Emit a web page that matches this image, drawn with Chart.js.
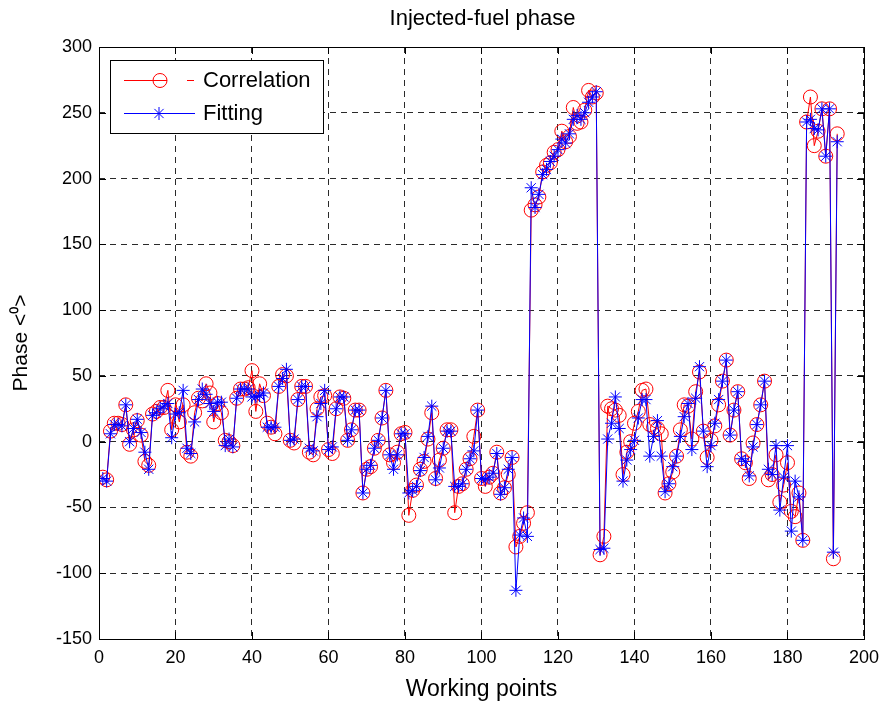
<!DOCTYPE html>
<html>
<head>
<meta charset="utf-8">
<title>Injected-fuel phase</title>
<script src="https://cdn.jsdelivr.net/npm/chart.js@4.4.1/dist/chart.umd.min.js"></script>
<style>
  html, body { margin: 0; padding: 0; background: #ffffff; }
  canvas { display: block; }
</style>
</head>
<body>
<canvas id="phaseChart" width="887" height="705"></canvas>
<script>
// Phase per working point, in degrees
const correlation = [
  -27, -29, 8, 14, 14, 13, 28, -2, 9, 16,
  5, -15, -18, 21, 23, 26, 26, 39, 9, 28,
  15, 28, -8, -11, 22, 33, 31, 44, 37, 15,
  29, 22, 1, 0, -3, 33, 40, 40, 41, 54,
  23, 44, 35, 14, 11, 6, 42, 51, 50, 1,
  -1, 32, 42, 42, -8, -10, 25, 34, 35, -6,
  -9, 25, 34, 33, 1, 9, 24, 24, -39, -21,
  -19, -5, 1, 18, 39, -10, -16, -8, 6, 7,
  -56, -37, -33, -21, -15, 2, 22, -28, -14, -5,
  9, 9, -54, -34, -32, -21, -13, 4, 24, -28,
  -34, -27, -24, -8, -39, -35, -25, -12, -80, -72,
  -62, -54, 176, 180, 186, 205, 210, 212, 220, 222,
  236, 228, 232, 254, 242, 243, 252, 267, 262, 265,
  -86, -72, 27, 25, 24, 20, -25, -8, 0, 14,
  23, 39, 40, 13, 11, 10, 6, -39, -32, -23,
  -11, 9, 28, 27, 2, 38, 53, 8, -12, 1,
  12, 28, 46, 62, 5, 24, 38, -13, -16, -28,
  -1, 13, 28, 46, -29, -25, -10, -46, -33, -16,
  -53, -57, -39, -75, 243, 262, 225, 236, 253, 217,
  253, -89, 234
];

const fitting = [
  -28, -30, 6, 13, 13, 12, 28, 0, 10, 17,
  7, -8, -21, 20, 22, 25, 27, 29, 3, 21,
  22, 39, -5, -9, 15, 32, 40, 36, 29, 23,
  30, 30, -3, 2, -4, 33, 40, 40, 40, 34,
  34, 35, 37, 11, 11, 11, 42, 48, 55, 1,
  2, 32, 42, 42, -5, -7, 19, 29, 39, -6,
  -4, 25, 34, 34, 1, 9, 24, 24, -39, -21,
  -18, -5, 1, 18, 39, -10, -21, -10, 6, 6,
  -39, -37, -34, -22, -12, 4, 27, -29, -20, -5,
  8, 8, -34, -34, -32, -21, -13, -7, 24, -28,
  -29, -27, -24, -9, -40, -35, -21, -12, -113, -71,
  -58, -72, 193, 178, 188, 203, 207, 213, 217, 222,
  230, 227, 234, 245, 248, 245, 250, 258, 262, 266,
  -82, -81, 2, 14, 34, 10, -30, -14, -6, 1,
  18, 32, 32, -11, 4, 16, -11, -38, -32, -19,
  -11, 4, 19, 29, -6, 33, 57, 8, -19, -3,
  14, 32, 46, 62, 5, 24, 38, -13, -15, -26,
  -4, 13, 28, 46, -21, -25, -3, -52, -27, -3,
  -68, -30, -42, -75, 243, 245, 238, 237, 253, 217,
  253, -84, 228
];

// Working point numbers, 1 .. N
const workingPoints = correlation.map((_, i) => i + 1);

const xTicks = [0, 20, 40, 60, 80, 100, 120, 140, 160, 180, 200];
const yTicks = [-150, -100, -50, 0, 50, 100, 150, 200, 250, 300];

const seriesNames = ['Correlation', 'Fitting'];
const chartTitle = 'Injected-fuel phase';
const xTitle = 'Working points';
const yTitle = 'Phase <\u2070>';

const FONT = '"Liberation Sans", Arial, Helvetica, sans-serif';
const RED = '#ff0000';
const BLUE = '#0000ff';

const toPoints = (vals) => vals.map((v, i) => ({ x: workingPoints[i], y: v }));

// White page behind everything
const backgroundPlugin = {
  id: 'pageBackground',
  beforeDraw(chart) {
    const ctx = chart.ctx;
    ctx.save();
    ctx.fillStyle = '#ffffff';
    ctx.fillRect(0, 0, chart.width, chart.height);
    ctx.restore();
  }
};

// Axes box with inward tick marks, the title and the legend box
const decorPlugin = {
  id: 'axesDecor',
  afterDraw(chart) {
    const ctx = chart.ctx;
    const a = chart.chartArea;
    const xs = chart.scales.x;
    const ys = chart.scales.y;
    const tl = 7;
    ctx.save();
    ctx.strokeStyle = '#000000';
    ctx.lineWidth = 1;
    ctx.setLineDash([]);
    ctx.beginPath();
    xTicks.forEach(t => {
      const px = Math.round(xs.getPixelForValue(t)) + 0.5;
      ctx.moveTo(px, a.bottom); ctx.lineTo(px, a.bottom - tl);
      ctx.moveTo(px, a.top); ctx.lineTo(px, a.top + tl);
    });
    yTicks.forEach(t => {
      const py = Math.round(ys.getPixelForValue(t)) + 0.5;
      ctx.moveTo(a.left, py); ctx.lineTo(a.left + tl, py);
      ctx.moveTo(a.right, py); ctx.lineTo(a.right - tl, py);
    });
    ctx.stroke();
    ctx.strokeRect(Math.round(a.left) + 0.5, Math.round(a.top) + 0.5,
                   Math.round(a.right - a.left), Math.round(a.bottom - a.top));

    // title
    ctx.fillStyle = '#000000';
    ctx.font = '22px ' + FONT;
    ctx.textAlign = 'center';
    ctx.textBaseline = 'middle';
    ctx.fillText(chartTitle, (a.left + a.right) / 2 + 1, 19);

    // legend
    const lx = a.left + 11, ly = a.top + 13, lw = 213, lh = 73;
    ctx.fillStyle = '#ffffff';
    ctx.fillRect(lx, ly, lw, lh);
    ctx.strokeStyle = '#000000';
    ctx.strokeRect(lx + 0.5, ly + 0.5, lw, lh);

    const row1 = ly + 20, row2 = ly + 53;
    // Correlation entry
    ctx.strokeStyle = RED;
    ctx.beginPath();
    ctx.moveTo(lx + 14, row1 + 0.5); ctx.lineTo(lx + 57, row1 + 0.5);
    ctx.moveTo(lx + 77, row1 + 0.5); ctx.lineTo(lx + 84, row1 + 0.5);
    ctx.stroke();
    ctx.beginPath();
    ctx.arc(lx + 50, row1 + 0.5, 7, 0, Math.PI * 2);
    ctx.stroke();
    // Fitting entry
    ctx.strokeStyle = BLUE;
    ctx.beginPath();
    ctx.moveTo(lx + 14, row2 + 0.5); ctx.lineTo(lx + 85, row2 + 0.5);
    ctx.stroke();
    const sx = lx + 49, sy = row2 + 0.5, r = 6.5, d = r * Math.SQRT1_2;
    ctx.beginPath();
    ctx.moveTo(sx - r, sy); ctx.lineTo(sx + r, sy);
    ctx.moveTo(sx, sy - r); ctx.lineTo(sx, sy + r);
    ctx.moveTo(sx - d, sy - d); ctx.lineTo(sx + d, sy + d);
    ctx.moveTo(sx - d, sy + d); ctx.lineTo(sx + d, sy - d);
    ctx.stroke();

    ctx.fillStyle = '#000000';
    ctx.font = '22px ' + FONT;
    ctx.textAlign = 'left';
    ctx.textBaseline = 'middle';
    ctx.fillText(seriesNames[0], lx + 93, row1 + 1);
    ctx.fillText(seriesNames[1], lx + 93, row2 + 1);
    ctx.restore();
  }
};

new Chart(document.getElementById('phaseChart'), {
  type: 'line',
  data: {
    datasets: [
      {
        label: seriesNames[0],
        data: toPoints(correlation),
        borderColor: RED,
        borderWidth: 1,
        backgroundColor: 'rgba(0,0,0,0)',
        pointStyle: 'circle',
        pointRadius: 7,
        pointBorderColor: RED,
        pointBackgroundColor: 'rgba(0,0,0,0)',
        pointBorderWidth: 1,
        tension: 0,
        order: 2
      },
      {
        label: seriesNames[1],
        data: toPoints(fitting),
        borderColor: BLUE,
        borderWidth: 1,
        backgroundColor: 'rgba(0,0,0,0)',
        pointStyle: 'star',
        pointRadius: 6.5,
        pointBorderColor: BLUE,
        pointBackgroundColor: BLUE,
        pointBorderWidth: 1,
        tension: 0,
        order: 1
      }
    ]
  },
  options: {
    responsive: false,
    devicePixelRatio: 1,
    animation: false,
    layout: { padding: { top: 47, right: 20, bottom: 0, left: 0 } },
    plugins: {
      legend: { display: false },
      title: { display: false },
      tooltip: { enabled: false }
    },
    scales: {
      x: {
        type: 'linear',
        min: 0,
        max: 200,
        afterFit(scale) { scale.height = 66; },
        afterBuildTicks(scale) { scale.ticks = xTicks.map(v => ({ value: v })); },
        ticks: {
          color: '#000000',
          font: { family: FONT, size: 18 },
          padding: 8,
          maxRotation: 0,
          autoSkip: false
        },
        grid: { color: '#2a2a2a', lineWidth: 1, drawTicks: false },
        border: { display: false, dash: [6, 5] },
        title: {
          display: true,
          text: xTitle,
          color: '#000000',
          font: { family: FONT, size: 23 },
          padding: { top: 0, bottom: 2 }
        }
      },
      y: {
        type: 'linear',
        min: -150,
        max: 300,
        afterFit(scale) { scale.width = 99; },
        afterBuildTicks(scale) { scale.ticks = yTicks.map(v => ({ value: v })); },
        ticks: {
          color: '#000000',
          font: { family: FONT, size: 18 },
          padding: 7,
          autoSkip: false
        },
        grid: { color: '#2a2a2a', lineWidth: 1, drawTicks: false },
        border: { display: false, dash: [6, 5] },
        title: {
          display: true,
          text: yTitle,
          color: '#000000',
          font: { family: FONT, size: 21 },
          padding: { top: 9, bottom: 0 }
        }
      }
    }
  },
  plugins: [backgroundPlugin, decorPlugin]
});
</script>
</body>
</html>
